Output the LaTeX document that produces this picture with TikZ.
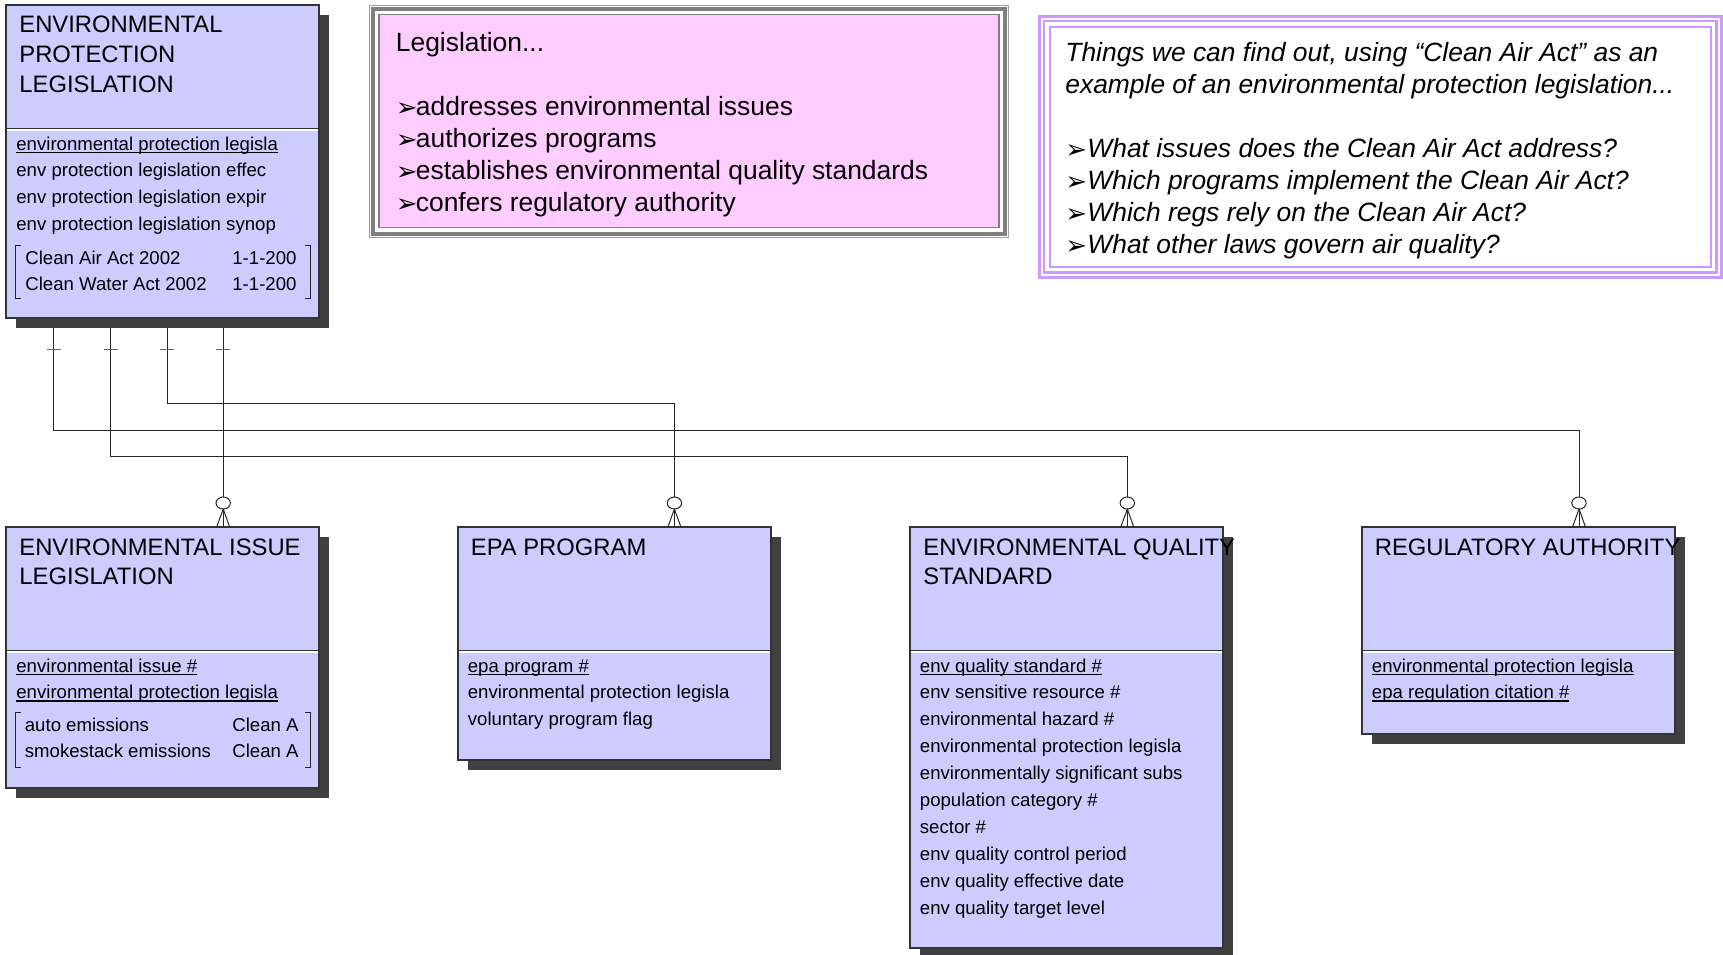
\documentclass[tikz,border=0pt]{standalone}
\usepackage{fontspec}
\setmainfont{Liberation Sans}
\newfontfamily\dejavu{DejaVu Sans}
\usetikzlibrary{shadows,calc}
\pgfdeclarelayer{background}
\pgfsetlayers{background,main}
\definecolor{entfill}{HTML}{CCCCFF}
\definecolor{shadowc}{HTML}{404040}
\definecolor{pinkfill}{HTML}{FFCCFF}
\definecolor{purpleband}{HTML}{CC99FF}
\definecolor{grayband}{HTML}{808080}
\definecolor{graythin}{HTML}{A0A0A0}
\newcommand\rowsx[1]{\begin{tabular}[t]{@{}l@{}}#1\end{tabular}}
\newcommand\uattr[1]{\setbox0\hbox{#1}\rlap{\rule[-1.3pt]{\wd0}{0.55pt}}\box0}
\newcommand\bul[1]{\makebox[#1][l]{\upshape\dejavu\fontsize{13}{10}\selectfont\raisebox{-0.6pt}{➢}}}
\begin{document}
\begin{tikzpicture}[x=0.5pt,y=-0.5pt,
  entity/.style={draw=black!80, line width=0.6pt, fill=entfill, inner sep=0pt, outer sep=0pt,
    anchor=north west, minimum width=156.5pt,
    general shadow={fill=shadowc, shadow xshift=5pt, shadow yshift=-5pt}},
  divdark/.style={draw=black!80, line width=0.6pt},
  divlight/.style={draw=white, line width=0.6pt},
  ttl/.style={anchor=base west, inner sep=0pt, font=\fontsize{11.9}{14.9}\selectfont},
  attr/.style={anchor=base west, inner sep=0pt, font=\fontsize{9.3}{13.45}\selectfont},
  rel/.style={draw=black!85, line width=0.5pt},
  tickmark/.style={draw=black!60, line width=0.5pt},
  brk/.style={draw=black!85, line width=0.5pt},
  legtext/.style={anchor=base west, inner sep=0pt, font=\fontsize{13.2}{16.05}\selectfont},
  qtext/.style={anchor=base west, inner sep=0pt, font=\fontsize{13.2}{16}\selectfont\itshape},
  manyopt/.pic={
    \draw[rel, fill=white] (0,-24) ellipse [x radius=3.6pt, y radius=3pt];
    \draw[rel] (0,-18) -- (-6.5,0) (0,-18) -- (6.5,0);
  }
]
\useasboundingbox (0,0) rectangle (1723,954);

% ---------- entity boxes ----------
\node[entity, minimum height=156.5pt] (epl) at (6,5) {};
\node[entity, minimum height=130.5pt] (eil) at (6,527) {};
\node[entity, minimum height=116.5pt] (epa) at (458,527) {};
\node[entity, minimum height=210.5pt] (eqs) at (910,527) {};
\node[entity, minimum height=103.5pt] (ra) at (1362,527) {};

\foreach \b in {epl,eil,epa,eqs,ra}{
  \draw[divdark] ($(\b.north west)+(0,123.5)$) -- ($(\b.north east)+(0,123.5)$);
  \draw[divlight] ($(\b.north west)+(1,125)$) -- ($(\b.north east)+(-1,125)$);
}

% ---------- EPL ----------
\node[ttl] (epl-t) at ($(epl.north west)+(13,27.5)$) {\rowsx{ENVIRONMENTAL\\PROTECTION\\LEGISLATION}};
\node[attr] (epl-a) at ($(epl.north west)+(10,145)$) {\rowsx{\uattr{environmental protection legisla}\\env protection legislation effec\\env protection legislation expir\\env protection legislation synop}};
\node[attr] (epl-s1) at ($(epl.north west)+(19,259)$) {\rowsx{Clean Air Act 2002\\Clean Water Act 2002}};
\node[attr] (epl-s2) at ($(epl.north west)+(226,259)$) {\rowsx{1-1-200\\1-1-200}};
\draw[brk] ($(epl.north west)+(14.5,240)$) -- ++(-5,0) |- ($(epl.north west)+(14.5,293)$);
\draw[brk] ($(epl.north east)+(-14,240)$) -- ++(5,0) |- ($(epl.north east)+(-14,293)$);

% ---------- Environmental issue legislation ----------
\node[ttl] (eil-t) at ($(eil.north west)+(13,28)$) {\rowsx{ENVIRONMENTAL ISSUE\\LEGISLATION}};
\node[attr] (eil-a) at ($(eil.north west)+(10,145)$) {\rowsx{\uattr{environmental issue \#}\\\uattr{environmental protection legisla}}};
\node[attr] (eil-s1) at ($(eil.north west)+(18.5,204)$) {\rowsx{auto emissions\\smokestack emissions}};
\node[attr] (eil-s2) at ($(eil.north west)+(226,204)$) {\rowsx{Clean A\\Clean A}};
\draw[brk] ($(eil.north west)+(14.5,185.5)$) -- ++(-5,0) |- ($(eil.north west)+(14.5,240)$);
\draw[brk] ($(eil.north east)+(-14,185.5)$) -- ++(5,0) |- ($(eil.north east)+(-14,240)$);

% ---------- EPA program ----------
\node[ttl] (epa-t) at ($(epa.north west)+(12.5,28)$) {\rowsx{EPA PROGRAM}};
\node[attr] (epa-a) at ($(epa.north west)+(9.5,145)$) {\rowsx{\uattr{epa program \#}\\environmental protection legisla\\voluntary program flag}};

% ---------- Environmental quality standard ----------
\node[ttl] (eqs-t) at ($(eqs.north west)+(13,28)$) {\rowsx{ENVIRONMENTAL QUALITY\\STANDARD}};
\node[attr] (eqs-a) at ($(eqs.north west)+(9.5,145)$) {\rowsx{\uattr{env quality standard \#}\\env sensitive resource \#\\environmental hazard \#\\environmental protection legisla\\environmentally significant subs\\population category \#\\sector \#\\env quality control period\\env quality effective date\\env quality target level}};

% ---------- Regulatory authority ----------
\node[ttl] (ra-t) at ($(ra.north west)+(12.5,28)$) {\rowsx{REGULATORY AUTHORITY}};
\node[attr] (ra-a) at ($(ra.north west)+(9.5,145)$) {\rowsx{\uattr{environmental protection legisla}\\\uattr{epa regulation citation \#}}};

% ---------- relationships ----------
\coordinate (c1) at (53.6,0);
\coordinate (c2) at (110.7,0);
\coordinate (c3) at (167.4,0);
\coordinate (c4) at (223.2,0);
\coordinate (e1) at (1579,0);
\coordinate (e2) at (1127.3,0);
\coordinate (e3) at (674.4,0);
\coordinate (h1) at (0,430);
\coordinate (h2) at (0,456.7);
\coordinate (h3) at (0,403.3);
\begin{pgfonlayer}{background}
\draw[rel] (epl.south -| c1) |- (e1 |- h1) -- (ra.north -| e1);
\draw[rel] (epl.south -| c2) |- (e2 |- h2) -- (eqs.north -| e2);
\draw[rel] (epl.south -| c3) |- (e3 |- h3) -- (epa.north -| e3);
\draw[rel] (epl.south -| c4) -- (eil.north -| c4);
\end{pgfonlayer}
\foreach \c in {c1,c2,c3,c4}{
  \draw[tickmark] ($(epl.south -| \c)+(-7,31)$) -- ++(14,0);
}
\pic at (ra.north -| e1) {manyopt};
\pic at (eqs.north -| e2) {manyopt};
\pic at (epa.north -| e3) {manyopt};
\pic at (eil.north -| c4) {manyopt};

% ---------- Legislation box ----------
\node[draw=graythin, line width=0.5pt, fill=white, anchor=north west, inner sep=0pt,
  minimum width=319.5pt, minimum height=116pt] (leg) at (369,4.5) {};
\draw[grayband, line width=2pt] ($(leg.north west)+(4,4)$) rectangle ($(leg.south east)+(-4,-4)$);
\draw[grayband, line width=0.8pt, fill=pinkfill] ($(leg.north west)+(10,10)$) rectangle ($(leg.south east)+(-10,-10)$);
\node[legtext] (leg-t) at (395.5,51) {\rowsx{Legislation...\\ \\
  \bul{10pt}addresses environmental issues\\
  \bul{10pt}authorizes programs\\
  \bul{10pt}establishes environmental quality standards\\
  \bul{10pt}confers regulatory authority}};

% ---------- Questions box ----------
\node[fill=white, anchor=north west, inner sep=0pt,
  minimum width=342pt, minimum height=131.5pt] (qbox) at (1038,15) {};
\draw[purpleband, line width=1.35pt] ($(qbox.north west)+(1.35,1.35)$) rectangle ($(qbox.south east)+(-1.35,-1.35)$);
\draw[purpleband, line width=1.2pt] ($(qbox.north west)+(6.2,6.2)$) rectangle ($(qbox.south east)+(-6.2,-6.2)$);
\draw[purpleband, line width=1pt] ($(qbox.north west)+(11.7,11.7)$) rectangle ($(qbox.south east)+(-11.7,-11.7)$);
\node[qtext] (q-t) at (1065,61) {\rowsx{Things we can find out, using “Clean Air Act” as an\\
  example of an environmental protection legislation...\\ \\
  \bul{11pt}What issues does the Clean Air Act address?\\
  \bul{11pt}Which programs implement the Clean Air Act?\\
  \bul{11pt}Which regs rely on the Clean Air Act?\\
  \bul{11pt}What other laws govern air quality?}};
\end{tikzpicture}
\end{document}
